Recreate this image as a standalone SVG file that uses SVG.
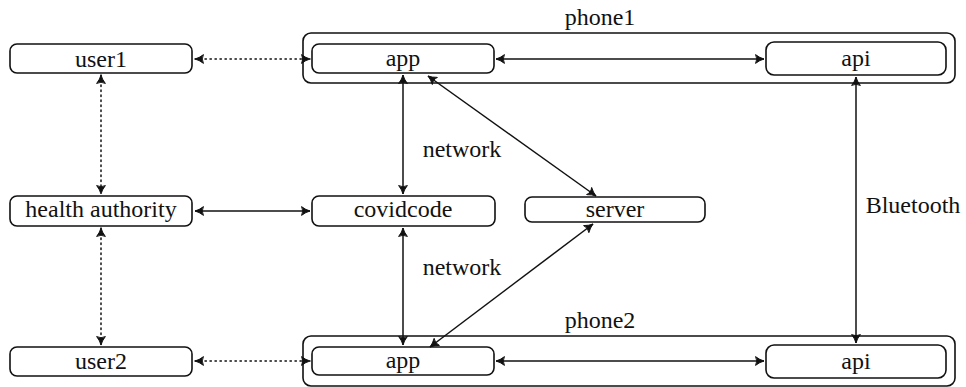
<svg xmlns="http://www.w3.org/2000/svg" width="966" height="387" viewBox="0 0 966 387" font-family="Liberation Serif, DejaVu Serif, serif" font-size="24">
  <style>
    text { fill: #111; text-anchor: middle; }
    .box { fill: #fff; stroke: #111; stroke-width: 1.6; }
    .group { fill: none; stroke: #111; stroke-width: 1.6; }
    .link { fill: none; stroke: #111; stroke-width: 1.5; marker-start: url(#tip); marker-end: url(#tip); }
    .dotted { stroke-dasharray: 1.4 3.6; stroke-linecap: round; }
  </style>
  <defs>
    <marker id="tip" viewBox="-10 -5 11 10" refX="0" refY="0" markerWidth="11" markerHeight="10" markerUnits="userSpaceOnUse" orient="auto-start-reverse">
      <path d="M0,0 Q-4.5,-1.3 -8.5,-4.4 Q-6,0 -8.5,4.4 Q-4.5,1.3 0,0 Z" fill="#111" stroke="#111" stroke-width="0.9" stroke-linejoin="round"/>
    </marker>
  </defs>

  <!-- phone containers -->
  <g id="phone1">
    <rect class="group" x="303" y="33" width="652" height="50" rx="8"/>
    <text x="600" y="25">phone1</text>
  </g>
  <g id="phone2">
    <rect class="group" x="303" y="336" width="652" height="50" rx="8"/>
    <text x="600" y="328">phone2</text>
  </g>

  <!-- nodes -->
  <g id="user1">
    <rect class="box" x="10" y="44" width="182" height="29" rx="7"/>
    <text x="101" y="67">user1</text>
  </g>
  <g id="app1">
    <rect class="box" x="312" y="44" width="182" height="29" rx="7"/>
    <text x="403" y="66">app</text>
  </g>
  <g id="api1">
    <rect class="box" x="766" y="42" width="180" height="33" rx="8"/>
    <text x="856" y="66">api</text>
  </g>
  <g id="health-authority">
    <rect class="box" x="10" y="196" width="182" height="30" rx="7"/>
    <text x="101" y="217">health authority</text>
  </g>
  <g id="covidcode">
    <rect class="box" x="312" y="196" width="183" height="30" rx="7"/>
    <text x="403" y="217">covidcode</text>
  </g>
  <g id="server">
    <rect class="box" x="525" y="197" width="180" height="25" rx="7"/>
    <text x="615" y="217">server</text>
  </g>
  <g id="user2">
    <rect class="box" x="10" y="347" width="182" height="29" rx="7"/>
    <text x="101" y="369">user2</text>
  </g>
  <g id="app2">
    <rect class="box" x="312" y="347" width="182" height="28" rx="7"/>
    <text x="403" y="368">app</text>
  </g>
  <g id="api2">
    <rect class="box" x="766" y="345" width="180" height="33" rx="8"/>
    <text x="856" y="369">api</text>
  </g>

  <!-- connectors -->
  <g id="connectors">
    <line class="link dotted" x1="195" y1="59" x2="310" y2="59"/>
    <line class="link" x1="496" y1="59" x2="764" y2="59"/>
    <line class="link dotted" x1="101" y1="75" x2="101" y2="194"/>
    <line class="link dotted" x1="101" y1="228" x2="101" y2="345"/>
    <line class="link" x1="195" y1="211" x2="310" y2="211"/>
    <line class="link" x1="403" y1="75" x2="403" y2="194"/>
    <line class="link" x1="428" y1="76" x2="596" y2="196"/>
    <line class="link" x1="403" y1="228" x2="403" y2="345"/>
    <line class="link" x1="593" y1="224" x2="430" y2="347"/>
    <line class="link" x1="856" y1="77" x2="856" y2="343"/>
    <line class="link" x1="496" y1="361" x2="764" y2="361"/>
    <line class="link dotted" x1="195" y1="361" x2="310" y2="361"/>
  </g>

  <!-- connector labels -->
  <g id="labels">
    <text x="462" y="157">network</text>
    <text x="462" y="275">network</text>
    <text x="913" y="213">Bluetooth</text>
  </g>
</svg>
